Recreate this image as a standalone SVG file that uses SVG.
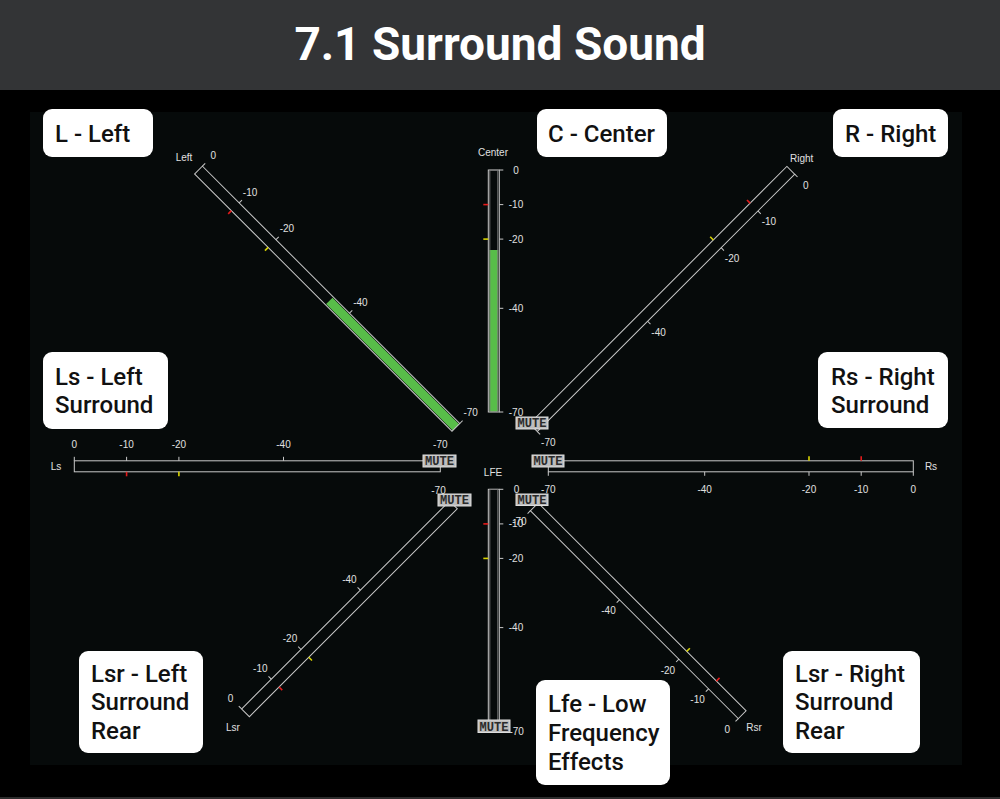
<svg xmlns="http://www.w3.org/2000/svg" width="1000" height="799" viewBox="0 0 1000 799">
<style>
.bar{fill:none;stroke:#c8c8c8;stroke-width:1}
.tk{stroke:#c8c8c8;stroke-width:1}
.red{stroke:#e41b1b;stroke-width:1.6}
.yel{stroke:#d9d400;stroke-width:1.6}
.grn{fill:#58bd49}
.sc{font-family:"Liberation Sans",Arial,sans-serif;font-size:10px;fill:#e0e0e0;text-anchor:middle}
.mb{fill:#bdbdbd;stroke:#dedede;stroke-width:1}
.mt{font-family:"Liberation Mono","Courier New",monospace;font-weight:bold;font-size:12.5px;fill:#2b2b2b;text-anchor:middle}
.box{fill:#ffffff}
.lb{font-family:Roboto,"Liberation Sans",sans-serif;font-weight:500;font-size:24px;fill:#111111}
</style>
<rect x="0" y="0" width="1000" height="799" fill="#000000"/>
<rect x="0" y="0" width="1000" height="90" fill="#333436"/>
<rect x="0" y="797" width="1000" height="2" fill="#2c2c2c"/>
<rect x="30" y="112" width="932" height="653" fill="#060a0a"/>
<text x="500" y="60" text-anchor="middle" font-family="Roboto,'Liberation Sans',sans-serif" font-weight="bold" font-size="46" fill="#ffffff">7.1 Surround Sound</text>

<!-- Left meter -->
<g id="meter-left">
<g transform="translate(198.5,170) rotate(45)">
<rect class="grn" x="185" y="-4.5" width="179" height="9"/>
<rect class="bar" x="0" y="-5.5" width="364" height="11"/>
<line class="tk" x1="0" y1="-5.5" x2="0" y2="-9.5"/><line class="tk" x1="52" y1="-5.5" x2="52" y2="-9.5"/><line class="tk" x1="104" y1="-5.5" x2="104" y2="-9.5"/><line class="tk" x1="208" y1="-5.5" x2="208" y2="-9.5"/><line class="tk" x1="364" y1="-5.5" x2="364" y2="-9.5"/>
<line class="red" x1="52" y1="5.5" x2="52" y2="10"/><line class="yel" x1="104" y1="5.5" x2="104" y2="10"/>
</g>
<text class="sc" x="184" y="160.5">Left</text>
<text class="sc" x="213.3" y="158.7">0</text><text class="sc" x="250.1" y="195.5">-10</text><text class="sc" x="286.9" y="232.2">-20</text><text class="sc" x="360.4" y="305.7">-40</text><text class="sc" x="470.7" y="416">-70</text>
</g>

<!-- Center meter -->
<g id="meter-center">
<g transform="translate(493.8,170) rotate(90)">
<rect class="grn" x="80" y="-4.5" width="162" height="9"/>
<rect class="bar" x="0" y="-5.5" width="242" height="11"/>
<rect class="bar" x="0" y="-4" width="242" height="8" style="stroke:#777"/>
<line class="tk" x1="0" y1="-5.5" x2="0" y2="-9.5"/><line class="tk" x1="34.6" y1="-5.5" x2="34.6" y2="-9.5"/><line class="tk" x1="69.1" y1="-5.5" x2="69.1" y2="-9.5"/><line class="tk" x1="138.3" y1="-5.5" x2="138.3" y2="-9.5"/><line class="tk" x1="242" y1="-5.5" x2="242" y2="-9.5"/>
<line class="red" x1="34.6" y1="5.5" x2="34.6" y2="10.5"/><line class="yel" x1="69.1" y1="5.5" x2="69.1" y2="10.5"/>
</g>
<text class="sc" x="493" y="156">Center</text>
<text class="sc" x="516" y="173.5">0</text><text class="sc" x="516" y="208.1">-10</text><text class="sc" x="516" y="242.6">-20</text><text class="sc" x="516" y="311.8">-40</text><text class="sc" x="516" y="415.5">-70</text>
</g>

<!-- Right meter -->
<g id="meter-right">
<g transform="translate(790.8,170.3) rotate(135)">
<rect class="bar" x="0" y="-5.5" width="364" height="11"/>
<line class="tk" x1="0" y1="-5.5" x2="0" y2="-9.5"/><line class="tk" x1="52" y1="-5.5" x2="52" y2="-9.5"/><line class="tk" x1="104" y1="-5.5" x2="104" y2="-9.5"/><line class="tk" x1="208" y1="-5.5" x2="208" y2="-9.5"/><line class="tk" x1="364" y1="-5.5" x2="364" y2="-9.5"/>
<line class="red" x1="52" y1="5.5" x2="52" y2="10"/><line class="yel" x1="104" y1="5.5" x2="104" y2="10"/>
</g>
<text class="sc" x="801.7" y="161.8">Right</text>
<text class="sc" x="805.7" y="188.7">0</text><text class="sc" x="768.9" y="225.4">-10</text><text class="sc" x="732.1" y="262.2">-20</text><text class="sc" x="658.6" y="335.8">-40</text><text class="sc" x="548.3" y="446.1">-70</text>
<rect class="mb" x="516" y="417" width="32" height="12"/><text class="mt" x="532" y="427.3" textLength="29" lengthAdjust="spacingAndGlyphs">MUTE</text>
</g>

<!-- Ls meter -->
<g id="meter-ls">
<g transform="translate(74.3,466.3)">
<rect class="bar" x="0" y="-5.5" width="366" height="11"/>
<line class="tk" x1="0" y1="-5.5" x2="0" y2="-9.5"/><line class="tk" x1="52.3" y1="-5.5" x2="52.3" y2="-9.5"/><line class="tk" x1="104.6" y1="-5.5" x2="104.6" y2="-9.5"/><line class="tk" x1="209.2" y1="-5.5" x2="209.2" y2="-9.5"/><line class="tk" x1="366" y1="-5.5" x2="366" y2="-9.5"/>
<line class="red" x1="52.3" y1="5.5" x2="52.3" y2="10"/><line class="yel" x1="104.6" y1="5.5" x2="104.6" y2="10"/>
</g>
<text class="sc" x="56" y="470.2">Ls</text>
<text class="sc" x="74.3" y="447.8">0</text><text class="sc" x="126.6" y="447.8">-10</text><text class="sc" x="178.9" y="447.8">-20</text><text class="sc" x="283.5" y="447.8">-40</text><text class="sc" x="440.3" y="447.8">-70</text>
<rect class="mb" x="423" y="455" width="33" height="12"/><text class="mt" x="439.5" y="465.3" textLength="29" lengthAdjust="spacingAndGlyphs">MUTE</text>
</g>

<!-- Rs meter -->
<g id="meter-rs">
<g transform="translate(913.3,466.3) rotate(180)">
<rect class="bar" x="0" y="-5.5" width="365" height="11"/>
<line class="tk" x1="0" y1="-5.5" x2="0" y2="-9.5"/><line class="tk" x1="52.1" y1="-5.5" x2="52.1" y2="-9.5"/><line class="tk" x1="104.3" y1="-5.5" x2="104.3" y2="-9.5"/><line class="tk" x1="208.6" y1="-5.5" x2="208.6" y2="-9.5"/><line class="tk" x1="365" y1="-5.5" x2="365" y2="-9.5"/>
<line class="red" x1="52.1" y1="5.5" x2="52.1" y2="10"/><line class="yel" x1="104.3" y1="5.5" x2="104.3" y2="10"/>
</g>
<text class="sc" x="931" y="470.2">Rs</text>
<text class="sc" x="913.3" y="492.5">0</text><text class="sc" x="861.2" y="492.5">-10</text><text class="sc" x="809" y="492.5">-20</text><text class="sc" x="704.7" y="492.5">-40</text><text class="sc" x="548.3" y="492.5">-70</text>
<rect class="mb" x="532" y="455" width="32" height="12"/><text class="mt" x="548" y="465.3" textLength="29" lengthAdjust="spacingAndGlyphs">MUTE</text>
</g>

<!-- Lsr meter -->
<g id="meter-lsr">
<g transform="translate(245.5,712.8) rotate(-45)">
<rect class="bar" x="0" y="-5.5" width="294" height="11"/>
<line class="tk" x1="0" y1="-5.5" x2="0" y2="-9.5"/><line class="tk" x1="42" y1="-5.5" x2="42" y2="-9.5"/><line class="tk" x1="84" y1="-5.5" x2="84" y2="-9.5"/><line class="tk" x1="168" y1="-5.5" x2="168" y2="-9.5"/><line class="tk" x1="294" y1="-5.5" x2="294" y2="-9.5"/>
<line class="red" x1="42" y1="5.5" x2="42" y2="10"/><line class="yel" x1="84" y1="5.5" x2="84" y2="10"/>
</g>
<text class="sc" x="233" y="730.5">Lsr</text>
<text class="sc" x="230.6" y="701.5">0</text><text class="sc" x="260.3" y="671.8">-10</text><text class="sc" x="290" y="642">-20</text><text class="sc" x="349.4" y="582.7">-40</text><text class="sc" x="438.5" y="493.5">-70</text>
<rect class="mb" x="438" y="494" width="33" height="12"/><text class="mt" x="454.5" y="504.3" textLength="29" lengthAdjust="spacingAndGlyphs">MUTE</text>
</g>

<!-- LFE meter -->
<g id="meter-lfe">
<g transform="translate(493.8,489.3) rotate(90)">
<rect class="bar" x="0" y="-5.5" width="242" height="11"/>
<rect class="bar" x="0" y="-4" width="242" height="8" style="stroke:#777"/>
<line class="tk" x1="0" y1="-5.5" x2="0" y2="-9.5"/><line class="tk" x1="34.6" y1="-5.5" x2="34.6" y2="-9.5"/><line class="tk" x1="69.1" y1="-5.5" x2="69.1" y2="-9.5"/><line class="tk" x1="138.3" y1="-5.5" x2="138.3" y2="-9.5"/><line class="tk" x1="242" y1="-5.5" x2="242" y2="-9.5"/>
<line class="red" x1="34.6" y1="5.5" x2="34.6" y2="10.5"/><line class="yel" x1="69.1" y1="5.5" x2="69.1" y2="10.5"/>
</g>
<text class="sc" x="493" y="475.8">LFE</text>
<text class="sc" x="516.5" y="492.8">0</text><text class="sc" x="516" y="527.4">-10</text><text class="sc" x="516" y="561.9">-20</text><text class="sc" x="516" y="631.1">-40</text><text class="sc" x="516.7" y="735">-70</text>
<rect class="mb" x="478" y="720" width="32" height="12.5"/><text class="mt" x="494" y="730.8" textLength="29" lengthAdjust="spacingAndGlyphs">MUTE</text>
</g>

<!-- Rsr meter -->
<g id="meter-rsr">
<g transform="translate(742.2,714.7) rotate(-135)">
<rect class="bar" x="0" y="-5.5" width="294" height="11"/>
<line class="tk" x1="0" y1="-5.5" x2="0" y2="-9.5"/><line class="tk" x1="42" y1="-5.5" x2="42" y2="-9.5"/><line class="tk" x1="84" y1="-5.5" x2="84" y2="-9.5"/><line class="tk" x1="168" y1="-5.5" x2="168" y2="-9.5"/><line class="tk" x1="294" y1="-5.5" x2="294" y2="-9.5"/>
<line class="red" x1="42" y1="5.5" x2="42" y2="10"/><line class="yel" x1="84" y1="5.5" x2="84" y2="10"/>
</g>
<text class="sc" x="754" y="730.8">Rsr</text>
<text class="sc" x="727.3" y="733">0</text><text class="sc" x="697.6" y="703.3">-10</text><text class="sc" x="667.9" y="673.6">-20</text><text class="sc" x="608.5" y="614.2">-40</text><text class="sc" x="519.4" y="525.1">-70</text>
<rect class="mb" x="516" y="494" width="32" height="11.5"/><text class="mt" x="532" y="504.3" textLength="29" lengthAdjust="spacingAndGlyphs">MUTE</text>
</g>

<!-- Label boxes -->
<g id="label-l"><rect class="box" x="43" y="109" width="110" height="48" rx="9"/><text class="lb" x="55" y="142">L - Left</text></g>
<g id="label-c"><rect class="box" x="537" y="109" width="130" height="48" rx="9"/><text class="lb" x="548" y="142">C - Center</text></g>
<g id="label-r"><rect class="box" x="833" y="109" width="115" height="48" rx="9"/><text class="lb" x="845" y="142">R - Right</text></g>
<g id="label-ls"><rect class="box" x="43" y="352" width="125" height="77" rx="9"/><text class="lb" x="55" y="385">Ls - Left</text><text class="lb" x="55" y="413">Surround</text></g>
<g id="label-rs"><rect class="box" x="818" y="352" width="130" height="76" rx="9"/><text class="lb" x="831" y="385">Rs - Right</text><text class="lb" x="831" y="413">Surround</text></g>
<g id="label-lsr"><rect class="box" x="79" y="651" width="124" height="102" rx="9"/><text class="lb" x="91" y="682">Lsr - Left</text><text class="lb" x="91" y="710">Surround</text><text class="lb" x="91" y="739">Rear</text></g>
<g id="label-rsr"><rect class="box" x="783" y="651" width="137" height="102" rx="9"/><text class="lb" x="795" y="682">Lsr - Right</text><text class="lb" x="795" y="710">Surround</text><text class="lb" x="795" y="739">Rear</text></g>
<g id="label-lfe"><rect class="box" x="536" y="680" width="134" height="105" rx="9"/><text class="lb" x="548" y="712">Lfe - Low</text><text class="lb" x="548" y="741">Frequency</text><text class="lb" x="548" y="770">Effects</text></g>
</svg>
